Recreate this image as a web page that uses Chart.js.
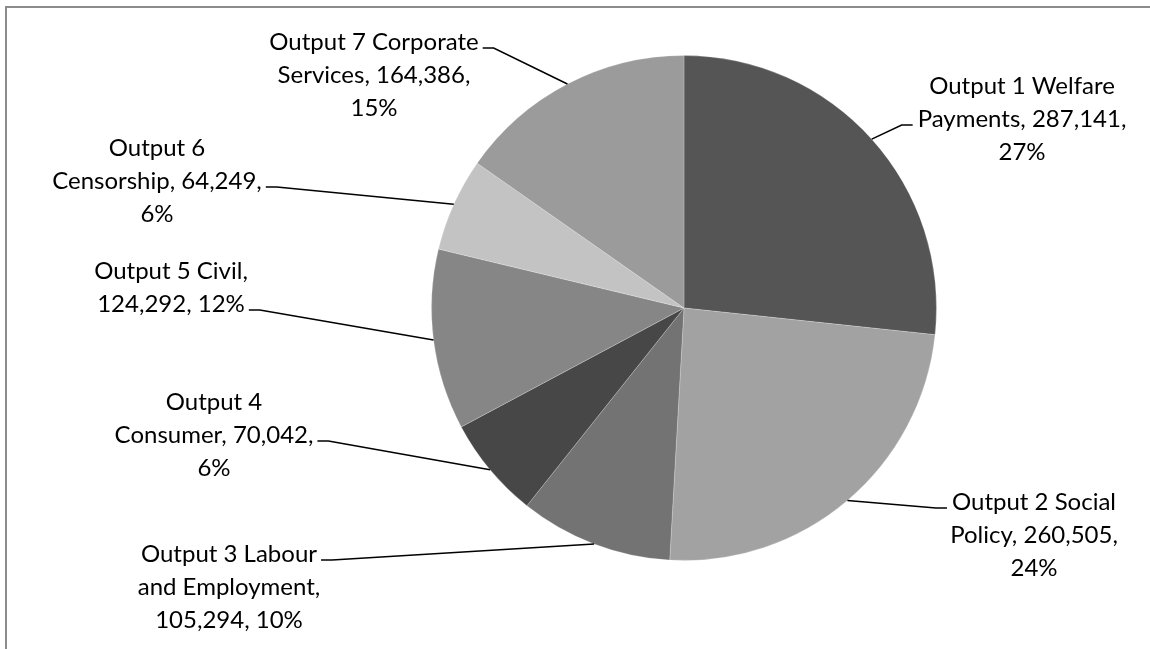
<!DOCTYPE html>
<html>
<head>
<meta charset="utf-8">
<script src="https://cdn.jsdelivr.net/npm/chart.js@4.4.1/dist/chart.umd.min.js"></script>
<style>
	body { margin: 0; background: #fff; }
	#wrap { position: relative; width: 1150px; height: 649px; overflow: hidden; }
</style>
</head>
<body>
<div id="wrap"><canvas id="mycanvas" width="1150" height="649"></canvas></div>
<script>
var categories = [
	'Output 1 Welfare Payments',
	'Output 2 Social Policy',
	'Output 3 Labour and Employment',
	'Output 4 Consumer',
	'Output 5 Civil',
	'Output 6 Censorship',
	'Output 7 Corporate Services'
];
var amounts = [287141, 260505, 105294, 70042, 124292, 64249, 164386];
var percents = ['27%', '24%', '10%', '6%', '12%', '6%', '15%'];

// how each data label wraps; {v} = amount, {p} = percent
var labelLines = [
	['Output 1 Welfare', 'Payments, {v},', '{p}'],
	['Output 2 Social', 'Policy, {v},', '{p}'],
	['Output 3 Labour', 'and Employment,', '{v}, {p}'],
	['Output 4', 'Consumer, {v},', '{p}'],
	['Output 5 Civil,', '{v}, {p}'],
	['Output 6', 'Censorship, {v},', '{p}'],
	['Output 7 Corporate', 'Services, {v},', '{p}']
];

var sliceColors = ['#555555', '#a2a2a2', '#737373', '#474747', '#868686', '#c3c3c3', '#9b9b9b'];

// label placement: centre x, first baseline, which line the leader meets, side
var labelPlace = [
	{ x: 1022, y: 94, line: 1, side: 'right' },
	{ x: 1034, y: 510, line: 0, side: 'right' },
	{ x: 229, y: 562, line: 0, side: 'left' },
	{ x: 214, y: 410, line: 1, side: 'left' },
	{ x: 171, y: 279, line: 1, side: 'left' },
	{ x: 157, y: 156, line: 1, side: 'left' },
	{ x: 374, y: 50, line: 0, side: 'left' }
];
var lineHeight = 33;
var labelFont = '24px Lato';

function fmt(n) {
	return n.toString().replace(/\B(?=(\d{3})+(?!\d))/g, ',');
}

var frame = {
	id: 'frame',
	beforeDraw: function(chart) {
		var ctx = chart.ctx;
		ctx.save();
		ctx.strokeStyle = '#8c8c8c';
		ctx.lineWidth = 2;
		ctx.strokeRect(6, 7, 1400, 1000);
		ctx.restore();
	}
};

var leaderLabels = {
	id: 'leaderLabels',
	afterDatasetsDraw: function(chart) {
		var ctx = chart.ctx;
		var meta = chart.getDatasetMeta(0);
		ctx.save();
		ctx.font = labelFont;
		ctx.fillStyle = '#000';
		ctx.textAlign = 'center';
		ctx.textBaseline = 'alphabetic';
		ctx.strokeStyle = '#000';
		ctx.lineWidth = 1.5;
		meta.data.forEach(function(arc, i) {
			var p = arc.getProps(['x', 'y', 'startAngle', 'endAngle', 'outerRadius'], true);
			var mid = (p.startAngle + p.endAngle) / 2;
			var ax = p.x + Math.cos(mid) * p.outerRadius;
			var ay = p.y + Math.sin(mid) * p.outerRadius;
			var place = labelPlace[i];
			var lines = labelLines[i].map(function(s) {
				return s.replace('{v}', fmt(amounts[i])).replace('{p}', percents[i]);
			});
			lines.forEach(function(s, k) {
				ctx.fillText(s, place.x, place.y + k * lineHeight);
			});
			var w = ctx.measureText(lines[place.line]).width;
			var ly = place.y + place.line * lineHeight - 2;
			var near, far;
			if (place.side === 'right') {
				near = place.x - w / 2 - 5;
				far = near - 11;
			} else {
				near = place.x + w / 2 + 4;
				far = near + 11;
			}
			ctx.beginPath();
			ctx.moveTo(ax, ay);
			ctx.lineTo(far, ly);
			ctx.lineTo(near, ly);
			ctx.stroke();
		});
		ctx.restore();
	}
};

var chartdata = {
	labels: categories,
	datasets: [
		{
			data: amounts,
			backgroundColor: sliceColors,
			borderColor: 'rgba(255, 255, 255, 0.22)',
			borderWidth: 1
		}
	]
};

var ctx = document.getElementById('mycanvas');
var pieChart = new Chart(ctx, {
	type: 'pie',
	data: chartdata,
	options: {
		responsive: false,
		animation: false,
		layout: { padding: { top: 55, bottom: 88, left: 431, right: 213 } },
		plugins: {
			legend: { display: false },
			tooltip: { enabled: false }
		}
	},
	plugins: [frame, leaderLabels]
});
</script>
</body>
</html>
